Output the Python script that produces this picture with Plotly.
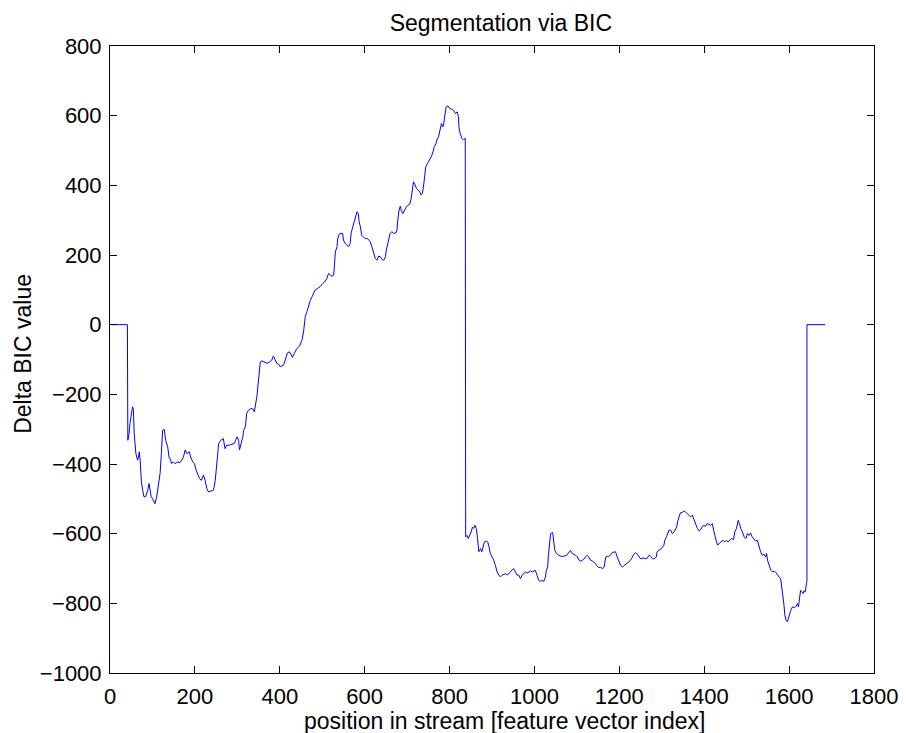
import plotly.graph_objects as go

position = [1, 41, 42, 45, 47, 50, 53, 55, 57, 61, 65, 67, 69, 71, 74, 77, 80, 84, 89, 92, 94, 97, 100, 102, 106, 110, 114, 118, 121, 124, 128, 131, 136, 139, 143, 145, 149, 153, 159, 165, 169, 173, 177, 181, 187, 190, 195, 199, 203, 207, 211, 215, 220, 224, 228, 232, 237, 244, 248, 252, 256, 261, 267, 271, 275, 281, 287, 293, 299, 303, 305, 309, 313, 315, 319, 322, 326, 332, 336, 340, 342, 346, 350, 354, 358, 363, 370, 376, 381, 385, 389, 393, 397, 401, 409, 415, 418, 423, 427, 430, 434, 440, 447, 452, 456, 460, 464, 468, 472, 476, 480, 483, 489, 495, 501, 506, 511, 515, 519, 523, 527, 529, 531, 535, 536, 539, 542, 548, 550, 554, 558, 562, 566, 568, 572, 575, 579, 582, 585, 587, 590, 593, 597, 601, 607, 613, 617, 621, 625, 629, 633, 637, 641, 645, 649, 651, 654, 657, 660, 664, 668, 674, 676, 678, 681, 684, 686, 690, 694, 698, 702, 706, 709, 712, 715, 719, 722, 726, 730, 733, 736, 739, 741, 744, 748, 753, 757, 761, 764, 768, 770, 774, 777, 778, 781, 784, 786, 789, 792, 796, 800, 806, 810, 814, 818, 821, 822, 825, 829, 833, 837, 838, 841, 844, 848, 851, 854, 857, 860, 863, 866, 869, 871, 873, 876, 879, 882, 887, 890, 893, 896, 900, 904, 908, 912, 916, 920, 924, 928, 932, 936, 940, 943, 947, 951, 955, 959, 963, 967, 971, 975, 979, 983, 987, 991, 995, 998, 1002, 1006, 1010, 1014, 1018, 1022, 1026, 1028, 1031, 1033, 1035, 1038, 1043, 1046, 1048, 1052, 1057, 1063, 1069, 1076, 1081, 1085, 1089, 1093, 1097, 1101, 1105, 1109, 1112, 1116, 1120, 1124, 1128, 1132, 1136, 1140, 1144, 1148, 1152, 1156, 1160, 1164, 1166, 1168, 1171, 1175, 1179, 1183, 1187, 1191, 1195, 1199, 1203, 1207, 1211, 1215, 1219, 1223, 1226, 1230, 1234, 1238, 1242, 1246, 1250, 1256, 1262, 1266, 1270, 1274, 1278, 1283, 1287, 1289, 1293, 1297, 1301, 1305, 1307, 1311, 1313, 1317, 1321, 1325, 1329, 1333, 1335, 1338, 1341, 1344, 1348, 1352, 1356, 1360, 1364, 1368, 1372, 1376, 1380, 1384, 1388, 1392, 1395, 1399, 1403, 1407, 1411, 1415, 1419, 1421, 1425, 1429, 1432, 1436, 1440, 1444, 1448, 1452, 1456, 1460, 1464, 1469, 1472, 1476, 1480, 1483, 1486, 1490, 1494, 1498, 1502, 1506, 1509, 1513, 1517, 1521, 1525, 1529, 1533, 1537, 1541, 1545, 1547, 1549, 1553, 1557, 1561, 1565, 1568, 1572, 1576, 1580, 1583, 1586, 1588, 1590, 1593, 1596, 1598, 1601, 1604, 1608, 1612, 1616, 1620, 1622, 1624, 1627, 1630, 1633, 1635, 1638, 1641, 1642, 1642, 1685]

delta_bic = [0, 0, -332, -312, -284, -255, -236, -241, -312, -370, -389, -380, -365, -389, -451, -475, -494, -494, -475, -456, -475, -494, -499, -504, -514, -494, -456, -427, -370, -303, -301, -332, -351, -380, -389, -399, -394, -399, -394, -396, -389, -380, -360, -370, -365, -380, -394, -399, -418, -432, -442, -447, -432, -447, -470, -480, -477, -475, -447, -399, -341, -332, -327, -356, -346, -346, -343, -341, -322, -332, -360, -341, -322, -303, -293, -255, -246, -241, -241, -250, -236, -207, -159, -107, -104, -107, -111, -107, -102, -90, -102, -111, -113, -121, -116, -92, -81, -78, -88, -94, -83, -69, -61, -45, -21, 23, 37, 56, 70, 80, 90, 99, 104, 109, 118, 123, 133, 147, 142, 139, 142, 176, 209, 224, 243, 257, 262, 262, 243, 233, 228, 224, 233, 262, 281, 295, 314, 324, 319, 295, 281, 257, 252, 247, 247, 238, 224, 204, 190, 185, 197, 195, 187, 185, 195, 214, 233, 252, 262, 267, 262, 264, 271, 300, 329, 340, 329, 319, 329, 338, 343, 346, 358, 386, 410, 401, 391, 386, 381, 372, 377, 401, 429, 453, 463, 472, 482, 496, 511, 520, 530, 539, 554, 568, 578, 568, 573, 602, 626, 628, 621, 618, 614, 606, 611, 597, 568, 549, 535, 530, 535, -609, -605, -614, -605, -595, -581, -585, -576, -585, -614, -652, -648, -643, -652, -638, -624, -621, -624, -638, -657, -667, -676, -691, -710, -719, -724, -719, -718, -715, -718, -715, -710, -705, -700, -710, -719, -719, -729, -719, -715, -710, -713, -710, -707, -710, -707, -705, -719, -734, -737, -734, -737, -724, -705, -697, -662, -629, -600, -597, -624, -648, -657, -662, -665, -665, -662, -652, -648, -657, -659, -662, -667, -676, -679, -676, -674, -667, -662, -667, -676, -678, -681, -686, -694, -697, -697, -700, -697, -676, -667, -665, -665, -662, -655, -653, -652, -667, -681, -691, -696, -691, -686, -684, -681, -676, -669, -659, -655, -659, -667, -672, -670, -672, -670, -662, -665, -672, -672, -667, -652, -648, -646, -640, -633, -619, -609, -600, -590, -590, -600, -595, -588, -581, -562, -547, -540, -539, -535, -538, -544, -547, -552, -547, -560, -576, -585, -592, -588, -581, -576, -579, -571, -573, -576, -571, -585, -605, -624, -633, -627, -624, -619, -624, -619, -624, -619, -614, -617, -595, -585, -562, -571, -585, -595, -609, -614, -600, -605, -598, -609, -617, -621, -619, -638, -652, -662, -659, -667, -657, -676, -691, -705, -710, -708, -710, -719, -724, -729, -753, -782, -806, -834, -849, -853, -844, -834, -820, -810, -812, -809, -801, -810, -782, -763, -767, -772, -764, -767, -743, -734, 0, 0]

x_ticks = [0, 200, 400, 600, 800, 1000, 1200, 1400, 1600, 1800]
y_ticks = [-1000, -800, -600, -400, -200, 0, 200, 400, 600, 800]

FONT = "Liberation Sans, Arial, Helvetica, sans-serif"
TICK_SIZE = 22
LABEL_SIZE = 23

fig = go.Figure()
fig.add_trace(go.Scatter(
    x=position, y=delta_bic, mode="lines",
    line=dict(color="#0000ff", width=1),
    showlegend=False, hoverinfo="skip",
))

axis_common = dict(
    showgrid=False, zeroline=False,
    showline=True, linecolor="black", linewidth=1, mirror="ticks",
    ticks="inside", ticklen=7, tickwidth=1, tickcolor="black",
    tickfont=dict(family=FONT, size=TICK_SIZE, color="black"),
)

fig.update_layout(
    width=906, height=733,
    paper_bgcolor="white", plot_bgcolor="white",
    margin=dict(l=102, r=40, t=38, b=68, autoexpand=False),
    title=dict(text="Segmentation via BIC", x=0.544, xanchor="center",
               y=0.9795, yanchor="middle", xref="container", yref="container",
               font=dict(family=FONT, size=LABEL_SIZE, color="black")),
    xaxis=dict(range=[0, 1800], tickvals=x_ticks, ticklabelstandoff=4, **axis_common),
    yaxis=dict(range=[-1000, 800], tickvals=y_ticks, ticklabelstandoff=3, **axis_common),
    annotations=[
        dict(text="position in stream [feature vector index]", xref="paper", yref="paper",
             x=0.516, y=-0.0765, xanchor="center", yanchor="middle", showarrow=False,
             font=dict(family=FONT, size=LABEL_SIZE, color="black")),
        dict(text="Delta BIC value", xref="paper", yref="paper", textangle=-90,
             x=-0.1139, y=0.509, xanchor="center", yanchor="middle", showarrow=False,
             font=dict(family=FONT, size=LABEL_SIZE, color="black")),
    ],
)

fig.write_html("out.html")
